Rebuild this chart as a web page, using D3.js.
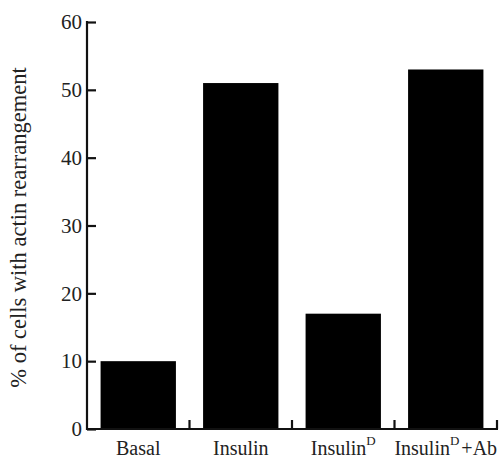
<!DOCTYPE html>
<html>
<head>
<meta charset="utf-8">
<script src="https://cdn.jsdelivr.net/npm/d3@7"></script>
</head>
<body style="margin:0">
<svg id="chart" width="501" height="460"></svg>
<script>
const categories = ["Basal", "Insulin", "InsulinD", "InsulinD+Ab"];
const values = [10, 51, 17, 53];
const yTicks = [0, 10, 20, 30, 40, 50, 60];
const yLabel = "% of cells with actin rearrangement";

const FONT = '"Nimbus Roman", "Liberation Serif", "Times New Roman", serif';
const svg = d3.select("#chart");
const x0 = 87, x1 = 497, yTop = 22, yBottom = 429;

const x = d3.scaleBand().domain(categories).range([x0, x1])
  .paddingInner(0.265).paddingOuter(0.1325);
const y = d3.scaleLinear().domain([0, 60]).range([yBottom, yTop]);

svg.append("g").selectAll("rect").data(categories).join("rect")
  .attr("x", d => x(d))
  .attr("width", x.bandwidth())
  .attr("y", (d, i) => y(values[i]))
  .attr("height", (d, i) => y(0) - y(values[i]))
  .attr("fill", "#000");

const yAxis = d3.axisLeft(y).tickValues(yTicks).tickSizeInner(-9).tickSizeOuter(0).tickPadding(5);
const gy = svg.append("g").attr("transform", `translate(${x0},0)`).call(yAxis)
  .attr("font-family", null).attr("font-size", null);
gy.select(".domain").attr("stroke", "#111").attr("stroke-width", 2.2).attr("d", `M0,${yTop - 1}V${yBottom + 1}`);
gy.selectAll(".tick line").attr("stroke", "#111").attr("stroke-width", 2.2);
gy.selectAll(".tick text").style("font-family", FONT).attr("font-size", 21).attr("fill", "#222");

const step = x.step();
const boundaries = categories.map(c => x(c) + x.bandwidth() + step * x.paddingInner() / 2);
const gx = svg.append("g");
gx.append("line").attr("x1", x0 - 1).attr("x2", x1 + 1).attr("y1", yBottom).attr("y2", yBottom)
  .attr("stroke", "#111").attr("stroke-width", 2.2);
gx.selectAll("line.tk").data(boundaries).join("line").attr("class", "tk")
  .attr("x1", d => d).attr("x2", d => d).attr("y1", yBottom).attr("y2", yBottom - 9)
  .attr("stroke", "#111").attr("stroke-width", 2.2);

const lab = gx.selectAll("text.lbl").data(categories).join("text").attr("class", "lbl")
  .attr("x", d => x(d) + x.bandwidth() / 2)
  .attr("y", 455)
  .attr("text-anchor", "middle")
  .attr("fill", "#222")
  .style("font-family", FONT).attr("font-size", 20);
lab.each(function(d) {
  const t = d3.select(this);
  if (d.startsWith("InsulinD")) {
    t.append("tspan").text("Insulin");
    t.append("tspan").text("D").attr("font-size", 13).attr("dy", -10);
    const rest = d.slice("InsulinD".length);
    if (rest) t.append("tspan").text(rest).attr("dy", 10).attr("dx", 2);
  } else {
    t.text(d);
  }
});

svg.append("text")
  .attr("transform", `translate(26,227.5) rotate(-90)`)
  .attr("text-anchor", "middle")
  .attr("fill", "#222")
  .style("font-family", FONT).attr("font-size", 22.5)
  .text(yLabel);
</script>
</body>
</html>
